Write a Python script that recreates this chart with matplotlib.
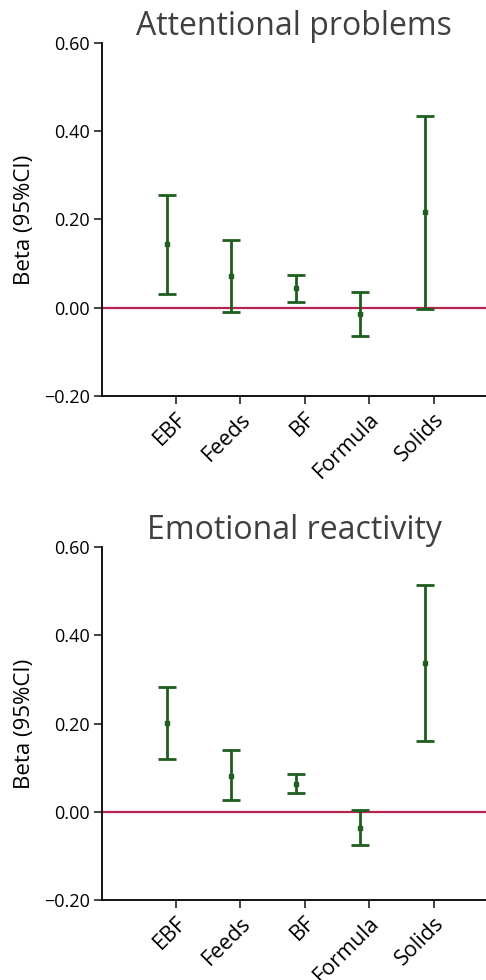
import matplotlib.pyplot as plt

categories = ["EBF", "Feeds", "BF", "Formula", "Solids"]

attn_beta = [0.144, 0.071, 0.045, -0.014, 0.216]
attn_low = [0.032, -0.010, 0.013, -0.063, -0.002]
attn_high = [0.255, 0.153, 0.075, 0.036, 0.434]

emo_beta = [0.201, 0.082, 0.064, -0.036, 0.337]
emo_low = [0.120, 0.026, 0.043, -0.075, 0.161]
emo_high = [0.282, 0.140, 0.085, 0.005, 0.515]

panels = [
    ("Attentional problems", attn_beta, attn_low, attn_high),
    ("Emotional reactivity", emo_beta, emo_low, emo_high),
]

plt.rcParams["font.family"] = ["Open Sans", "DejaVu Sans"]

fig = plt.figure(figsize=(4.86, 9.8), dpi=100)
green = "#1e5e1e"
red = "#b8224f"

for k, (title, beta, low, high) in enumerate(panels):
    top = 43 if k == 0 else 547
    ax = fig.add_axes([102 / 486, 1 - (top + 353) / 980, 384 / 486, 353 / 980])
    x = [i + 1 for i in range(len(categories))]
    yerr = [[b - l for b, l in zip(beta, low)], [h - b for b, h in zip(beta, high)]]
    ax.axhline(0, color=red, lw=1.6, zorder=1)
    ax.errorbar(x, beta, yerr=yerr, fmt="s", ms=3, color=green, ecolor=green,
                elinewidth=2, capsize=6.5, capthick=2, zorder=3)
    ax.set_xlim(0, 5.95)
    ax.set_ylim(-0.2, 0.6)
    ax.set_yticks([-0.2, 0.0, 0.2, 0.4, 0.6])
    ax.set_yticklabels(["\u22120.20", "0.00", "0.20", "0.40", "0.60"], fontsize=13)
    ax.set_xticks([i + 0.14 for i in x])
    ax.set_xticklabels(categories, rotation=45, ha="right", rotation_mode="anchor",
                       fontsize=15.5)
    ax.tick_params(axis="both", length=6, width=1.2, color="#222222", pad=3)
    ax.spines["top"].set_visible(False)
    ax.spines["right"].set_visible(False)
    ax.spines["left"].set_linewidth(1.3)
    ax.spines["bottom"].set_linewidth(1.3)
    ax.set_ylabel("Beta (95%CI)", fontsize=16, labelpad=6)
    ax.set_title(title, fontsize=23, color="#404040", pad=2)

fig.savefig("out.png", dpi=100)
